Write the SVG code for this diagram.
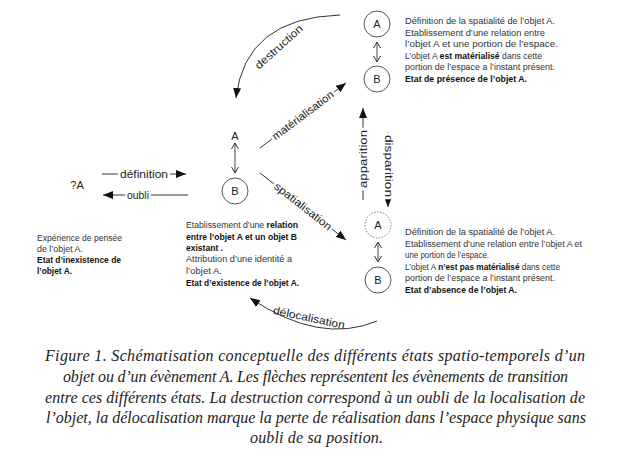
<svg xmlns="http://www.w3.org/2000/svg" width="633" height="456" viewBox="0 0 633 456">
<defs>
<marker id="ah" markerUnits="userSpaceOnUse" markerWidth="10" markerHeight="8" viewBox="0 0 10 8" refX="10" refY="4" orient="auto"><path d="M0,0 L10,4 L0,8 z" fill="#111"/></marker>
<marker id="oh" markerUnits="userSpaceOnUse" markerWidth="8" markerHeight="8" viewBox="0 0 8 8" refX="7" refY="4" orient="auto-start-reverse"><path d="M1,0.5 L7,4 L1,7.5" fill="none" stroke="#333" stroke-width="1"/></marker>
<style>
.c{fill:#fff;stroke:#555;stroke-width:1}
.d{fill:#fff;stroke:#777;stroke-width:1;stroke-dasharray:1.5 1.5}
.n{font-family:"Liberation Sans",Arial,sans-serif;font-size:11px;fill:#222;text-anchor:middle}
.l{font-family:"Liberation Sans",Arial,sans-serif;font-size:11px;fill:#222;text-anchor:middle;stroke:#fff;stroke-width:5;paint-order:stroke;stroke-linejoin:round}
.t{font-family:"Liberation Sans",Arial,sans-serif;font-size:8.5px;fill:#333}
.b{font-weight:bold;fill:#111}
.w{fill:none;stroke:#333;stroke-width:1}
.dbl{fill:none;stroke:#444;stroke-width:1;marker-start:url(#oh);marker-end:url(#oh)}
.cap{font-family:"Liberation Serif","Times New Roman",serif;font-style:italic;font-size:16px;fill:#222;text-anchor:middle}
</style>
</defs>
<rect width="633" height="456" fill="#fff"/>

<g id="connectors">
<path class="w" d="M102,174 L186,174" marker-end="url(#ah)"/>
<text class="l" x="144" y="177.5" textLength="48" lengthAdjust="spacingAndGlyphs">définition</text>
<path class="w" d="M188,195 L103,195" marker-end="url(#ah)"/>
<text class="l" x="138" y="198.5" textLength="22" lengthAdjust="spacingAndGlyphs">oubli</text>
<path class="w" d="M260,148 L346,83" marker-end="url(#ah)"/>
<text class="l" transform="translate(303,115.5) rotate(-37)" x="0" y="3.5" textLength="74" lengthAdjust="spacingAndGlyphs">matérialisation</text>
<path class="w" d="M260,173 L346,240" marker-end="url(#ah)"/>
<text class="l" transform="translate(303,206.5) rotate(38)" x="0" y="3.5" textLength="70" lengthAdjust="spacingAndGlyphs">spatialisation</text>
<path class="w" d="M363,200 L363,108" marker-end="url(#ah)"/>
<text class="l" transform="translate(363,159) rotate(-90)" x="0" y="3.5" textLength="58" lengthAdjust="spacingAndGlyphs">apparition</text>
<path class="w" d="M388,132 L388,207" marker-end="url(#ah)"/>
<text class="l" transform="translate(388,166) rotate(90)" x="0" y="3.5" textLength="62" lengthAdjust="spacingAndGlyphs">disparition</text>
<path class="w" d="M340,15 Q245,18 236,98" marker-end="url(#ah)"/>
<text class="n" transform="translate(279,47) rotate(-42)" x="0" y="3.5" textLength="60" lengthAdjust="spacingAndGlyphs">destruction</text>
<path class="w" d="M377,321 Q320,345 250,298" marker-end="url(#ah)"/>
<text class="n" transform="translate(309,318) rotate(12)" x="0" y="3.5" textLength="73" lengthAdjust="spacingAndGlyphs">délocalisation</text>
<path class="dbl" d="M377,42 L377,62"/>
<path class="dbl" d="M235,143 L235,173"/>
<path class="dbl" d="M378,242 L378,262"/>
</g>

<g id="node-unknown">
<text class="n" x="77" y="189">?A</text>
<text class="t" x="37"><tspan x="37" y="241" textLength="85" lengthAdjust="spacingAndGlyphs">Expérience de pensée</tspan><tspan x="37" y="252" textLength="46" lengthAdjust="spacingAndGlyphs">de l’objet A.</tspan><tspan class="b" x="37" y="263" textLength="84" lengthAdjust="spacingAndGlyphs">Etat d’inexistence de</tspan><tspan class="b" x="37" y="274" textLength="35" lengthAdjust="spacingAndGlyphs">l’objet A.</tspan></text>
</g>

<g id="node-existence">
<text class="n" x="235" y="140">A</text>
<circle class="c" cx="235" cy="191" r="13"/>
<text class="n" x="235" y="195">B</text>
<text class="t" x="186" y="228" textLength="112" lengthAdjust="spacingAndGlyphs">Etablissement d’une <tspan class="b">relation</tspan></text>
<text class="t b" x="186" y="240" textLength="111" lengthAdjust="spacingAndGlyphs">entre l’objet A et un objet B</text>
<text class="t b" x="186" y="251" textLength="37" lengthAdjust="spacingAndGlyphs">existant .</text>
<text class="t" x="186" y="262" textLength="106" lengthAdjust="spacingAndGlyphs">Attribution d’une identité a</text>
<text class="t" x="186" y="274" textLength="36" lengthAdjust="spacingAndGlyphs">l’objet A.</text>
<text class="t b" x="186" y="286" textLength="113" lengthAdjust="spacingAndGlyphs">Etat d’existence de l’objet A.</text>
</g>

<g id="node-presence">
<circle class="c" cx="377" cy="24" r="13"/>
<text class="n" x="377" y="28">A</text>
<circle class="c" cx="377" cy="79" r="13"/>
<text class="n" x="377" y="83">B</text>
<text class="t" x="405" y="24" textLength="150" lengthAdjust="spacingAndGlyphs">Définition de la spatialité de l’objet A.</text>
<text class="t" x="405" y="35.5" textLength="140" lengthAdjust="spacingAndGlyphs">Etablissement d’une relation entre</text>
<text class="t" x="405" y="47" textLength="153" lengthAdjust="spacingAndGlyphs">l’objet A et une portion de l’espace.</text>
<text class="t" x="405" y="58.5" textLength="137" lengthAdjust="spacingAndGlyphs">L’objet A <tspan class="b">est matérialisé</tspan> dans cette</text>
<text class="t" x="405" y="70" textLength="150" lengthAdjust="spacingAndGlyphs">portion de l’espace a l’instant présent.</text>
<text class="t b" x="405" y="81.5" textLength="122" lengthAdjust="spacingAndGlyphs">Etat de présence de l’objet A.</text>
</g>

<g id="node-absence">
<circle class="d" cx="378" cy="225" r="13"/>
<text class="n" x="378" y="229">A</text>
<circle class="c" cx="378" cy="280" r="13"/>
<text class="n" x="378" y="284">B</text>
<text class="t" x="405" y="235" textLength="150" lengthAdjust="spacingAndGlyphs">Définition de la spatialité de l’objet A.</text>
<text class="t" x="405" y="246.5" textLength="177" lengthAdjust="spacingAndGlyphs">Etablissement d’une relation entre l’objet A et</text>
<text class="t" x="405" y="258" textLength="84" lengthAdjust="spacingAndGlyphs">une portion de l’espace.</text>
<text class="t" x="405" y="269.5" textLength="155" lengthAdjust="spacingAndGlyphs">L’objet A <tspan class="b">n’est pas matérialisé</tspan> dans cette</text>
<text class="t" x="405" y="281" textLength="150" lengthAdjust="spacingAndGlyphs">portion de l’espace a l’instant présent.</text>
<text class="t b" x="405" y="292.5" textLength="112" lengthAdjust="spacingAndGlyphs">Etat d’absence de l’objet A.</text>
</g>

<g id="caption">
<text class="cap" x="315" y="361" textLength="540" lengthAdjust="spacing">Figure 1. Schématisation conceptuelle des différents états spatio-temporels d’un</text>
<text class="cap" x="315.5" y="382" textLength="505" lengthAdjust="spacing">objet ou d’un évènement A. Les flèches représentent les évènements de transition</text>
<text class="cap" x="315" y="403" textLength="540" lengthAdjust="spacing">entre ces différents états. La destruction correspond à un oubli de la localisation de</text>
<text class="cap" x="316" y="423" textLength="540" lengthAdjust="spacing">l’objet, la délocalisation marque la perte de réalisation dans l’espace physique sans</text>
<text class="cap" x="316.5" y="443" textLength="133" lengthAdjust="spacing">oubli de sa position.</text>
</g>
</svg>
